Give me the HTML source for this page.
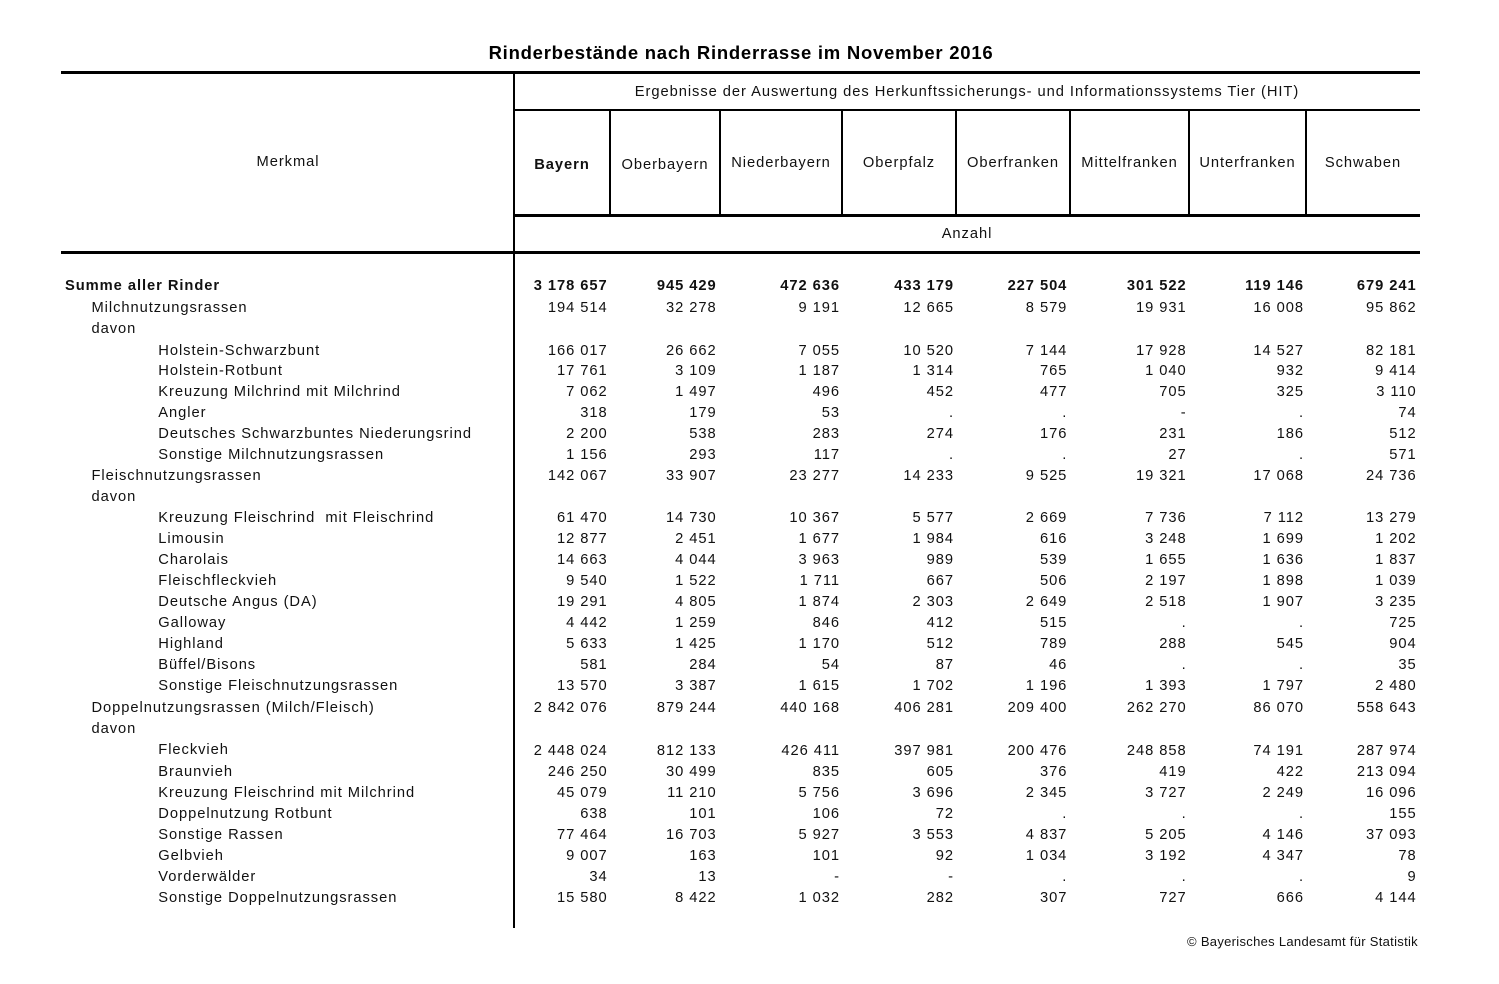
<!DOCTYPE html>
<html><head><meta charset="utf-8">
<style>
html,body{margin:0;padding:0}
body{width:1499px;height:984px;background:#fff;position:relative;overflow:hidden;font-family:"Liberation Sans",Arial,sans-serif;font-size:14.7px;letter-spacing:0.95px;color:#111}
.ln{position:absolute;background:#000}
.a{position:absolute;white-space:nowrap;line-height:21px;height:21px;margin-top:1px}
.ctr{text-align:center}
.b{font-weight:bold}
.r{position:absolute;left:0;width:1499px;height:21px;line-height:21px;margin-top:1px}
.r span{position:absolute;top:0;white-space:nowrap}
.l0{left:65px}
.l1{left:91.5px}
.l2{left:158.3px}
.n1{right:891.4px}
.n2{right:782.4px}
.n3{right:659px}
.n4{right:545px}
.n5{right:431.7px}
.n6{right:312.4px}
.n7{right:195px}
.n8{right:82.4px}
</style></head>
<body>
<!-- title -->
<div class="a ctr b" style="left:241px;width:1000px;top:40.8px;margin-top:0;font-size:18.5px;letter-spacing:0.75px;line-height:24px;height:24px;color:#000">Rinderbestände nach Rinderrasse im November 2016</div>

<!-- lines -->
<div class="ln" style="left:61px;top:71px;width:1359px;height:3px"></div>
<div class="ln" style="left:514px;top:109px;width:906px;height:2px"></div>
<div class="ln" style="left:514px;top:214px;width:906px;height:3px"></div>
<div class="ln" style="left:61px;top:251px;width:1359px;height:3px"></div>
<div class="ln" style="left:513px;top:72px;width:2px;height:856px"></div>
<div class="ln" style="left:609px;top:110px;width:2px;height:106px"></div>
<div class="ln" style="left:719px;top:110px;width:2px;height:106px"></div>
<div class="ln" style="left:841px;top:110px;width:2px;height:106px"></div>
<div class="ln" style="left:955px;top:110px;width:2px;height:106px"></div>
<div class="ln" style="left:1069px;top:110px;width:2px;height:106px"></div>
<div class="ln" style="left:1188px;top:110px;width:2px;height:106px"></div>
<div class="ln" style="left:1305px;top:110px;width:2px;height:106px"></div>

<!-- header texts -->
<div class="a ctr" style="left:467px;width:1000px;top:80.6px">Ergebnisse der Auswertung des Herkunftssicherungs- und Informationssystems Tier (HIT)</div>
<div class="a ctr" style="left:62px;width:452px;top:151.3px">Merkmal</div>
<div class="a ctr b" style="left:514px;width:96px;top:153.6px">Bayern</div>
<div class="a ctr" style="left:610px;width:110px;top:153.6px">Oberbayern</div>
<div class="a ctr" style="left:720px;width:122px;top:151.6px">Niederbayern</div>
<div class="a ctr" style="left:842px;width:114px;top:151.6px">Oberpfalz</div>
<div class="a ctr" style="left:956px;width:114px;top:151.6px">Oberfranken</div>
<div class="a ctr" style="left:1070px;width:119px;top:151.6px">Mittelfranken</div>
<div class="a ctr" style="left:1189px;width:117px;top:151.6px">Unterfranken</div>
<div class="a ctr" style="left:1306px;width:114px;top:151.6px">Schwaben</div>
<div class="a ctr" style="left:467px;width:1000px;top:223px">Anzahl</div>

<!-- data rows -->
<div class="r b" style="top:275px"><span class="l0">Summe aller Rinder</span><span class="n1">3 178 657</span><span class="n2">945 429</span><span class="n3">472 636</span><span class="n4">433 179</span><span class="n5">227 504</span><span class="n6">301 522</span><span class="n7">119 146</span><span class="n8">679 241</span></div>
<div class="r" style="top:297px"><span class="l1">Milchnutzungsrassen</span><span class="n1">194 514</span><span class="n2">32 278</span><span class="n3">9 191</span><span class="n4">12 665</span><span class="n5">8 579</span><span class="n6">19 931</span><span class="n7">16 008</span><span class="n8">95 862</span></div>
<div class="r" style="top:318px"><span class="l1">davon</span></div>
<div class="r" style="top:339.5px"><span class="l2">Holstein-Schwarzbunt</span><span class="n1">166 017</span><span class="n2">26 662</span><span class="n3">7 055</span><span class="n4">10 520</span><span class="n5">7 144</span><span class="n6">17 928</span><span class="n7">14 527</span><span class="n8">82 181</span></div>
<div class="r" style="top:360px"><span class="l2">Holstein-Rotbunt</span><span class="n1">17 761</span><span class="n2">3 109</span><span class="n3">1 187</span><span class="n4">1 314</span><span class="n5">765</span><span class="n6">1 040</span><span class="n7">932</span><span class="n8">9 414</span></div>
<div class="r" style="top:380.5px"><span class="l2">Kreuzung Milchrind mit Milchrind</span><span class="n1">7 062</span><span class="n2">1 497</span><span class="n3">496</span><span class="n4">452</span><span class="n5">477</span><span class="n6">705</span><span class="n7">325</span><span class="n8">3 110</span></div>
<div class="r" style="top:401.5px"><span class="l2">Angler</span><span class="n1">318</span><span class="n2">179</span><span class="n3">53</span><span class="n4">.</span><span class="n5">.</span><span class="n6">-</span><span class="n7">.</span><span class="n8">74</span></div>
<div class="r" style="top:422.5px"><span class="l2">Deutsches Schwarzbuntes Niederungsrind</span><span class="n1">2 200</span><span class="n2">538</span><span class="n3">283</span><span class="n4">274</span><span class="n5">176</span><span class="n6">231</span><span class="n7">186</span><span class="n8">512</span></div>
<div class="r" style="top:443.5px"><span class="l2">Sonstige Milchnutzungsrassen</span><span class="n1">1 156</span><span class="n2">293</span><span class="n3">117</span><span class="n4">.</span><span class="n5">.</span><span class="n6">27</span><span class="n7">.</span><span class="n8">571</span></div>
<div class="r" style="top:464.5px"><span class="l1">Fleischnutzungsrassen</span><span class="n1">142 067</span><span class="n2">33 907</span><span class="n3">23 277</span><span class="n4">14 233</span><span class="n5">9 525</span><span class="n6">19 321</span><span class="n7">17 068</span><span class="n8">24 736</span></div>
<div class="r" style="top:485.5px"><span class="l1">davon</span></div>
<div class="r" style="top:506.5px"><span class="l2">Kreuzung Fleischrind &nbsp;mit Fleischrind</span><span class="n1">61 470</span><span class="n2">14 730</span><span class="n3">10 367</span><span class="n4">5 577</span><span class="n5">2 669</span><span class="n6">7 736</span><span class="n7">7 112</span><span class="n8">13 279</span></div>
<div class="r" style="top:528px"><span class="l2">Limousin</span><span class="n1">12 877</span><span class="n2">2 451</span><span class="n3">1 677</span><span class="n4">1 984</span><span class="n5">616</span><span class="n6">3 248</span><span class="n7">1 699</span><span class="n8">1 202</span></div>
<div class="r" style="top:549px"><span class="l2">Charolais</span><span class="n1">14 663</span><span class="n2">4 044</span><span class="n3">3 963</span><span class="n4">989</span><span class="n5">539</span><span class="n6">1 655</span><span class="n7">1 636</span><span class="n8">1 837</span></div>
<div class="r" style="top:570px"><span class="l2">Fleischfleckvieh</span><span class="n1">9 540</span><span class="n2">1 522</span><span class="n3">1 711</span><span class="n4">667</span><span class="n5">506</span><span class="n6">2 197</span><span class="n7">1 898</span><span class="n8">1 039</span></div>
<div class="r" style="top:591px"><span class="l2">Deutsche Angus (DA)</span><span class="n1">19 291</span><span class="n2">4 805</span><span class="n3">1 874</span><span class="n4">2 303</span><span class="n5">2 649</span><span class="n6">2 518</span><span class="n7">1 907</span><span class="n8">3 235</span></div>
<div class="r" style="top:612px"><span class="l2">Galloway</span><span class="n1">4 442</span><span class="n2">1 259</span><span class="n3">846</span><span class="n4">412</span><span class="n5">515</span><span class="n6">.</span><span class="n7">.</span><span class="n8">725</span></div>
<div class="r" style="top:633px"><span class="l2">Highland</span><span class="n1">5 633</span><span class="n2">1 425</span><span class="n3">1 170</span><span class="n4">512</span><span class="n5">789</span><span class="n6">288</span><span class="n7">545</span><span class="n8">904</span></div>
<div class="r" style="top:654px"><span class="l2">Büffel/Bisons</span><span class="n1">581</span><span class="n2">284</span><span class="n3">54</span><span class="n4">87</span><span class="n5">46</span><span class="n6">.</span><span class="n7">.</span><span class="n8">35</span></div>
<div class="r" style="top:675px"><span class="l2">Sonstige Fleischnutzungsrassen</span><span class="n1">13 570</span><span class="n2">3 387</span><span class="n3">1 615</span><span class="n4">1 702</span><span class="n5">1 196</span><span class="n6">1 393</span><span class="n7">1 797</span><span class="n8">2 480</span></div>
<div class="r" style="top:696.5px"><span class="l1">Doppelnutzungsrassen (Milch/Fleisch)</span><span class="n1">2 842 076</span><span class="n2">879 244</span><span class="n3">440 168</span><span class="n4">406 281</span><span class="n5">209 400</span><span class="n6">262 270</span><span class="n7">86 070</span><span class="n8">558 643</span></div>
<div class="r" style="top:717.5px"><span class="l1">davon</span></div>
<div class="r" style="top:739px"><span class="l2">Fleckvieh</span><span class="n1" style="top:1px">2 448 024</span><span class="n2" style="top:1px">812 133</span><span class="n3" style="top:1px">426 411</span><span class="n4" style="top:1px">397 981</span><span class="n5" style="top:1px">200 476</span><span class="n6" style="top:1px">248 858</span><span class="n7" style="top:1px">74 191</span><span class="n8" style="top:1px">287 974</span></div>
<div class="r" style="top:761px"><span class="l2">Braunvieh</span><span class="n1">246 250</span><span class="n2">30 499</span><span class="n3">835</span><span class="n4">605</span><span class="n5">376</span><span class="n6">419</span><span class="n7">422</span><span class="n8">213 094</span></div>
<div class="r" style="top:782px"><span class="l2">Kreuzung Fleischrind mit Milchrind</span><span class="n1">45 079</span><span class="n2">11 210</span><span class="n3">5 756</span><span class="n4">3 696</span><span class="n5">2 345</span><span class="n6">3 727</span><span class="n7">2 249</span><span class="n8">16 096</span></div>
<div class="r" style="top:803px"><span class="l2">Doppelnutzung Rotbunt</span><span class="n1">638</span><span class="n2">101</span><span class="n3">106</span><span class="n4">72</span><span class="n5">.</span><span class="n6">.</span><span class="n7">.</span><span class="n8">155</span></div>
<div class="r" style="top:824px"><span class="l2">Sonstige Rassen</span><span class="n1">77 464</span><span class="n2">16 703</span><span class="n3">5 927</span><span class="n4">3 553</span><span class="n5">4 837</span><span class="n6">5 205</span><span class="n7">4 146</span><span class="n8">37 093</span></div>
<div class="r" style="top:845px"><span class="l2">Gelbvieh</span><span class="n1">9 007</span><span class="n2">163</span><span class="n3">101</span><span class="n4">92</span><span class="n5">1 034</span><span class="n6">3 192</span><span class="n7">4 347</span><span class="n8">78</span></div>
<div class="r" style="top:866px"><span class="l2">Vorderwälder</span><span class="n1">34</span><span class="n2">13</span><span class="n3">-</span><span class="n4">-</span><span class="n5">.</span><span class="n6">.</span><span class="n7">.</span><span class="n8">9</span></div>
<div class="r" style="top:887px"><span class="l2">Sonstige Doppelnutzungsrassen</span><span class="n1">15 580</span><span class="n2">8 422</span><span class="n3">1 032</span><span class="n4">282</span><span class="n5">307</span><span class="n6">727</span><span class="n7">666</span><span class="n8">4 144</span></div>

<!-- footer -->
<div style="position:absolute;right:81px;top:933.5px;font-size:13px;letter-spacing:0.3px;line-height:16px;white-space:nowrap">© Bayerisches Landesamt für Statistik</div>
</body></html>
